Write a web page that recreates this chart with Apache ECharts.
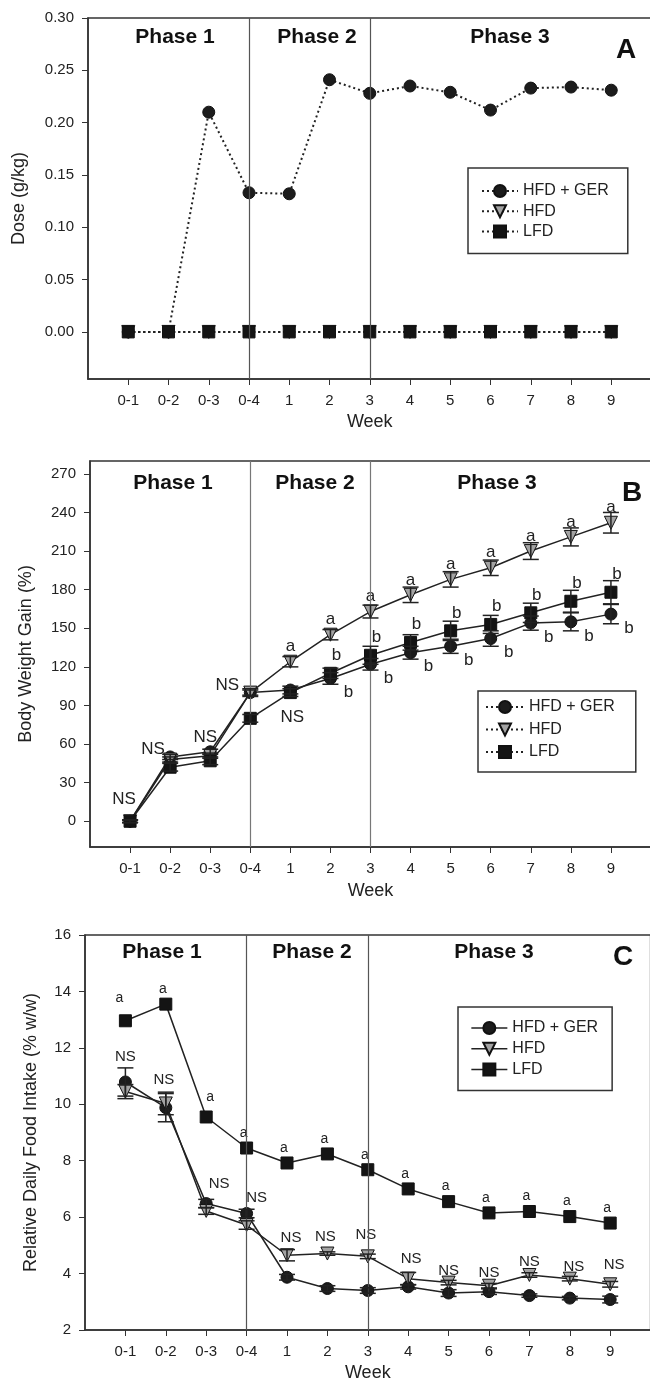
<!DOCTYPE html>
<html>
  <head>
    <meta charset="utf-8" />
    <title>Dose, body weight gain and food intake</title>
    <script src="https://cdn.jsdelivr.net/npm/echarts@6/dist/echarts.min.js"></script>
    <style type="text/css">
      body { margin: 0; background: #fff; }
      .panel { position: absolute; left: 0; width: 650px; }
    </style>
  </head>
  <body>
    <div id="pa" class="panel" style="top: 0; height: 440px"></div>
    <div id="pb" class="panel" style="top: 440px; height: 460px"></div>
    <div id="pc" class="panel" style="top: 900px; height: 478px"></div>
    <script type="text/javascript">
      // week categories (shared by the three panels)
      var weeks = ["0-1", "0-2", "0-3", "0-4", "1", "2", "3", "4", "5", "6", "7", "8", "9"];
      var seriesNames = ["HFD + GER", "HFD", "LFD"];

      // panel A - dose (g/kg)
      var doseTicks = [0, 0.05, 0.1, 0.15, 0.2, 0.25, 0.3];
      var doseGER = [0, 0, 0.21, 0.133, 0.132, 0.241, 0.228, 0.235, 0.229, 0.212, 0.233, 0.234, 0.231];
      var doseHFD = [0, 0, 0, 0, 0, 0, 0, 0, 0, 0, 0, 0, 0];
      var doseLFD = [0, 0, 0, 0, 0, 0, 0, 0, 0, 0, 0, 0, 0];

      // panel B - body weight gain (%)
      var bwTicks = [0, 30, 60, 90, 120, 150, 180, 210, 240, 270];
      var bwGER = [0, 50, 54, 100, 102, 111, 122, 131, 136, 142, 154, 155, 161];
      var bwGERErr = [1, 2, 2, 2, 3, 4.5, 4.5, 5, 5.5, 6, 5.5, 7, 7.5];
      var bwHFD = [0, 48, 51, 100, 124, 145, 163, 176, 188, 197, 210, 221, 232];
      var bwHFDErr = [1, 2, 2, 3, 4, 4, 5, 6, 6, 6, 6.5, 7, 8];
      var bwLFD = [0, 42, 47, 80, 100, 115, 129, 139, 148, 153, 162, 171, 178];
      var bwLFDErr = [1, 3, 3, 3, 3, 4, 7, 6, 7.5, 7, 7.5, 8.5, 9];
      var bwSigGER = ["NS", "", "", "", "", "b", "b", "b", "b", "b", "b", "b", "b"];
      var bwSigHFD = ["", "NS", "NS", "NS", "a", "a", "a", "a", "a", "a", "a", "a", "a"];
      var bwSigLFD = ["", "", "", "", "NS", "b", "b", "b", "b", "b", "b", "b", "b"];

      // panel C - relative daily food intake (% w/w)
      var fiGER = [10.79, 9.88, 6.48, 6.13, 3.87, 3.47, 3.4, 3.53, 3.31, 3.36, 3.22, 3.13, 3.08];
      var fiGERErr = [0.5, 0.5, 0.15, 0.15, 0.1, 0.1, 0.1, 0.08, 0.12, 0.1, 0.06, 0.06, 0.12];
      var fiHFD = [10.45, 10.03, 6.22, 5.72, 4.65, 4.71, 4.61, 3.82, 3.68, 3.57, 3.95, 3.82, 3.62];
      var fiHFDErr = [0.25, 0.4, 0.12, 0.15, 0.2, 0.06, 0.08, 0.22, 0.08, 0.08, 0.08, 0.08, 0.1];
      var fiLFD = [12.96, 13.55, 9.55, 8.45, 7.92, 8.24, 7.68, 7.0, 6.55, 6.15, 6.2, 6.02, 5.79];
      var fiSigGER = ["NS", "", "NS", "NS", "", "", "", "", "", "", "", "", ""];
      var fiSigHFD = ["", "NS", "", "", "NS", "NS", "NS", "NS", "NS", "NS", "NS", "NS", "NS"];
      var fiSigLFD = ["a", "a", "a", "a", "a", "a", "a", "a", "a", "a", "a", "a", "a"];

      var FONT = "Liberation Sans, Arial, Helvetica, sans-serif";
      var INK = "#222";
      var weekIdx = weeks.map(function (w, i) { return i; });

      // marker look per group
      var markers = [
        { symbol: "circle", size: 12, rotate: 0, fill: "#1c1c1c" },
        { symbol: "triangle", size: 13, rotate: 180, fill: "#a3a3a3" },
        { symbol: "rect", size: 12, rotate: 0, fill: "#141414" }
      ];

      function lineSeries(k, values, dash, sig, sigStyle, phaseLines) {
        var m = markers[k];
        var s = {
          name: seriesNames[k],
          type: "line",
          z: 2 + k,
          symbol: m.symbol,
          symbolSize: m.size,
          symbolRotate: m.rotate,
          showAllSymbol: true,
          animation: false,
          itemStyle: { color: m.fill, borderColor: "#111", borderWidth: 1 },
          lineStyle: { color: INK, width: dash ? 2 : 1.5, type: dash ? [2, 3] : "solid" },
          data: values.map(function (v, i) {
            var item = { value: [i, v] };
            if (sig && sig[i]) {
              var off = (sigStyle.over && sigStyle.over[i]) || sigStyle.offset;
              item.label = {
                show: true,
                position: "inside",
                offset: off,
                formatter: sig[i],
                fontSize: sig[i] === "NS" ? sigStyle.nsSize : sigStyle.size,
                color: INK,
                fontFamily: FONT
              };
            }
            return item;
          })
        };
        if (phaseLines) {
          s.markLine = {
            silent: true,
            symbol: ["none", "none"],
            label: { show: false },
            animation: false,
            lineStyle: { color: phaseLines, width: 1.2, type: "solid" },
            data: [{ xAxis: 3 }, { xAxis: 6 }]
          };
        }
        return s;
      }

      function errSeries(values, errs, cap) {
        return {
          type: "custom",
          silent: true,
          z: 6,
          animation: false,
          renderItem: function (params, api) {
            var x = api.value(0), y = api.value(1), e = api.value(2);
            if (!e) return;
            var t = api.coord([x, y + e]);
            var b = api.coord([x, y - e]);
            var st = { stroke: INK, lineWidth: 1.5 };
            return {
              type: "group",
              children: [
                { type: "line", shape: { x1: t[0], y1: t[1], x2: b[0], y2: b[1] }, style: st },
                { type: "line", shape: { x1: t[0] - cap, y1: t[1], x2: t[0] + cap, y2: t[1] }, style: st },
                { type: "line", shape: { x1: b[0] - cap, y1: b[1], x2: b[0] + cap, y2: b[1] }, style: st }
              ]
            };
          },
          data: values.map(function (v, i) { return [i, v, errs[i]]; })
        };
      }

      function phaseText(list, letter) {
        var g = list.map(function (p) {
          return {
            type: "text", x: p[1], y: p[2], z: 10,
            style: { text: p[0], font: "bold 21px " + FONT, fill: "#111", align: "center", verticalAlign: "middle" }
          };
        });
        g.push({
          type: "text", x: letter[1], y: letter[2], z: 10,
          style: { text: letter[0], font: "bold 28px " + FONT, fill: "#111", align: "center", verticalAlign: "middle" }
        });
        return g;
      }

      function baseOption(cfg) {
        return {
          animation: false,
          textStyle: { fontFamily: FONT },
          grid: {
            left: cfg.grid[0], top: cfg.grid[1], right: cfg.grid[2], height: cfg.grid[3],
            outerBoundsMode: "none", containLabel: false,
            show: true, borderColor: "#333", borderWidth: 1.5, backgroundColor: "transparent"
          },
          xAxis: {
            type: "value", min: -1, max: 13,
            name: "Week", nameLocation: "middle", nameGap: cfg.xNameGap,
            nameTextStyle: { fontSize: 18, color: INK, fontFamily: FONT },
            axisLine: { show: true, onZero: false, lineStyle: { color: "#333", width: 1.5 } },
            axisTick: { show: true, customValues: weekIdx, length: 6, lineStyle: { color: "#333" } },
            axisLabel: {
              customValues: weekIdx, margin: 14, fontSize: 15, color: INK,
              formatter: function (v) { return weeks[v]; }
            },
            splitLine: { show: false }
          },
          yAxis: {
            type: "value", min: cfg.yMin, max: cfg.yMax,
            name: cfg.yName, nameLocation: "middle", nameGap: cfg.yNameGap,
            nameTextStyle: { fontSize: 18, color: INK, fontFamily: FONT },
            axisLine: { show: true, onZero: false, lineStyle: { color: "#333", width: 1.5 } },
            axisTick: { show: true, customValues: cfg.yTicks, length: 6, lineStyle: { color: "#333" } },
            axisLabel: {
              customValues: cfg.yTicks, margin: 14, fontSize: 15, color: INK,
              formatter: cfg.yFmt
            },
            splitLine: { show: false }
          },
          legend: {
            orient: "vertical",
            left: cfg.legend.left, top: cfg.legend.top,
            padding: cfg.legend.padding,
            itemGap: cfg.legend.gap,
            itemWidth: cfg.legend.itemWidth,
            itemHeight: 15,
            borderColor: "#333", borderWidth: 1.5, borderRadius: 0,
            backgroundColor: "#fff",
            lineStyle: cfg.legend.dash ? { type: [2, 3], width: 2 } : { type: "solid", width: 1.5 },
            textStyle: { fontSize: 16, color: INK, fontFamily: FONT, lineHeight: 16 },
            data: seriesNames
          },
          graphic: phaseText(cfg.phases, cfg.letter),
          series: cfg.series
        };
      }

      // ---------- panel A ----------
      var chartA = echarts.init(document.getElementById("pa"));
      chartA.setOption(baseOption({
        grid: [88, 18, -1.5, 361],
        xNameGap: 29,
        yMin: -0.045, yMax: 0.3, yTicks: doseTicks, yName: "Dose (g/kg)", yNameGap: 60,
        yFmt: function (v) { return v.toFixed(2); },
        legend: { left: 468, top: 168, padding: [15, 19, 14, 13], gap: 4.3, itemWidth: 36, dash: true },
        phases: [["Phase 1", 175, 37], ["Phase 2", 317, 37], ["Phase 3", 510, 37]],
        letter: ["A", 626, 50],
        series: [
          lineSeries(0, doseGER, true, null, null, "#555"),
          lineSeries(1, doseHFD, true),
          lineSeries(2, doseLFD, true)
        ]
      }));

      // ---------- panel B ----------
      var chartB = echarts.init(document.getElementById("pb"));
      chartB.setOption(baseOption({
        grid: [90, 21, -1, 386],
        xNameGap: 35,
        yMin: -20, yMax: 280, yTicks: bwTicks, yName: "Body Weight Gain (%)", yNameGap: 55,
        yFmt: function (v) { return String(v); },
        legend: { left: 478, top: 251, padding: [8, 21, 12, 7], gap: 6.5, itemWidth: 38, dash: true },
        phases: [["Phase 1", 173, 43], ["Phase 2", 315, 43], ["Phase 3", 497, 43]],
        letter: ["B", 632, 53],
        series: [
          lineSeries(0, bwGER, false, bwSigGER, { size: 17, nsSize: 17, offset: [18, 14], over: { 0: [-6, -22] } }, "#777"),
          lineSeries(1, bwHFD, false, bwSigHFD, { size: 17, nsSize: 17, offset: [0, -15], over: { 1: [-17, -10], 2: [-5, -18], 3: [-23, -7] } }),
          lineSeries(2, bwLFD, false, bwSigLFD, { size: 17, nsSize: 17, offset: [6, -18], over: { 4: [2, 25] } }),
          errSeries(bwGER, bwGERErr, 8),
          errSeries(bwHFD, bwHFDErr, 8),
          errSeries(bwLFD, bwLFDErr, 8)
        ]
      }));

      // ---------- panel C ----------
      var chartC = echarts.init(document.getElementById("pc"));
      chartC.setOption(baseOption({
        grid: [85, 35, -0.6, 395],
        xNameGap: 30,
        yMin: 2, yMax: 16, yTicks: [2, 4, 6, 8, 10, 12, 14, 16], yName: "Relative Daily Food Intake (% w/w)", yNameGap: 45,
        yFmt: function (v) { return String(v); },
        legend: { left: 458, top: 107, padding: [13, 14, 13, 12.6], gap: 4.8, itemWidth: 36, dash: false },
        phases: [["Phase 1", 162, 52], ["Phase 2", 312, 52], ["Phase 3", 494, 52]],
        letter: ["C", 623, 57],
        series: [
          lineSeries(0, fiGER, false, fiSigGER, { size: 14, nsSize: 15, offset: [0, -16], over: { 0: [0, -25], 2: [13, -20], 3: [10, -16] } }, "#555"),
          lineSeries(1, fiHFD, false, fiSigHFD, { size: 14, nsSize: 15, offset: [0, -16], over: { 1: [-2, -24], 4: [4, -17], 5: [-2, -17], 6: [-2, -22], 7: [3, -20], 8: [0, -12], 9: [0, -13], 10: [0, -13], 11: [4, -12], 12: [4, -19] } }),
          lineSeries(2, fiLFD, false, fiSigLFD, { size: 14, nsSize: 15, offset: [-3, -15], over: { 0: [-6, -23], 2: [4, -20] } }),
          errSeries(fiGER, fiGERErr, 8),
          errSeries(fiHFD, fiHFDErr, 8)
        ]
      }));
    </script>
  </body>
</html>
